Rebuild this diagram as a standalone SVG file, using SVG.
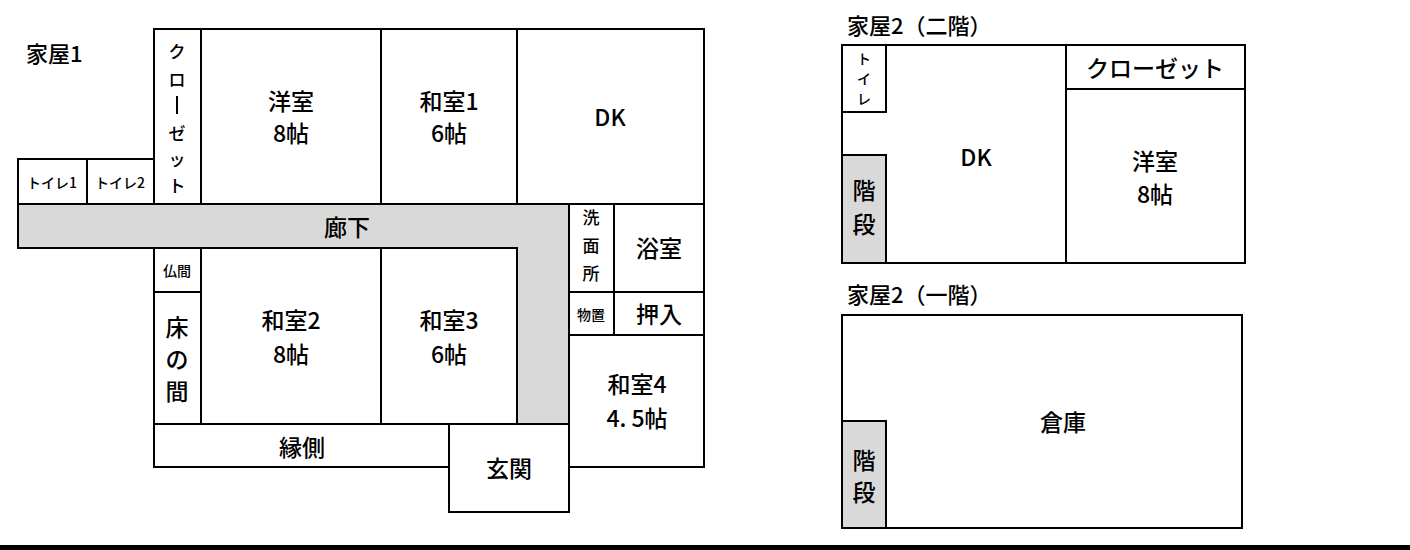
<svg xmlns="http://www.w3.org/2000/svg" width="1410" height="550" viewBox="0 0 1410 550">
<style>
.w{fill:#fff;stroke:#000;stroke-width:2}
.g{fill:#d9d9d9;stroke:#000;stroke-width:2}
text{font-family:"Noto Sans CJK JP","Liberation Sans",sans-serif;fill:#000;text-anchor:middle;font-weight:500}
.L{font-size:23px}
.S{font-size:14px}
.M{font-size:17px}
.T{font-size:22px;text-anchor:start}
</style>
<rect width="1410" height="550" fill="#fff"/>
<g id="house1">
<text class="T" x="26" y="62">家屋1</text>
<path class="g" d="M18,204 H569 V424 H517 V248 H18 Z"/>
<rect class="w" x="154" y="29" width="47" height="175"/>
<rect class="w" x="201" y="29" width="180" height="175"/>
<rect class="w" x="381" y="29" width="136" height="175"/>
<rect class="w" x="517" y="29" width="187" height="175"/>
<rect class="w" x="18" y="159" width="69" height="45"/>
<rect class="w" x="87" y="159" width="67" height="45"/>
<rect class="w" x="569" y="204" width="45" height="88"/>
<rect class="w" x="614" y="204" width="90" height="88"/>
<rect class="w" x="569" y="292" width="45" height="43"/>
<rect class="w" x="614" y="292" width="90" height="43"/>
<rect class="w" x="569" y="335" width="135" height="132"/>
<rect class="w" x="154" y="248" width="47" height="44"/>
<rect class="w" x="154" y="292" width="47" height="132"/>
<rect class="w" x="201" y="248" width="180" height="176"/>
<rect class="w" x="381" y="248" width="136" height="176"/>
<rect class="w" x="154" y="424" width="295" height="43"/>
<rect class="w" x="449" y="424" width="120" height="88"/>
<g class="M"><text x="177" y="58">ク</text><text x="177" y="86">ロ</text><text x="177" y="140">ゼ</text><text x="177" y="166">ッ</text><text x="177" y="192">ト</text></g>
<line x1="177" y1="96" x2="177" y2="114" stroke="#000" stroke-width="2"/>
<text class="L" x="291" y="110">洋室</text><text class="L" x="291" y="142">8帖</text>
<text class="L" x="449" y="110">和室1</text><text class="L" x="449" y="142">6帖</text>
<text class="L" x="610" y="126">DK</text>
<text class="S" x="52" y="188">トイレ1</text><text class="S" x="120" y="188">トイレ2</text>
<text class="L" x="347" y="236">廊下</text>
<text class="M" x="591" y="224">洗</text><text class="M" x="591" y="252">面</text><text class="M" x="591" y="280">所</text>
<text class="L" x="659" y="257">浴室</text>
<text class="S" x="591" y="320">物置</text>
<text class="L" x="659" y="323">押入</text>
<text class="L" x="637" y="393">和室4</text><text class="L" x="637" y="427">4. 5帖</text>
<text class="S" x="177" y="276">仏間</text>
<text class="L" x="177" y="336">床</text><text class="L" x="177" y="368">の</text><text class="L" x="177" y="400">間</text>
<text class="L" x="291" y="329">和室2</text><text class="L" x="291" y="363">8帖</text>
<text class="L" x="449" y="329">和室3</text><text class="L" x="449" y="363">6帖</text>
<text class="L" x="302" y="456">縁側</text>
<text class="L" x="509" y="477">玄関</text>
</g>
<g id="house2-2f">
<text class="T" x="847" y="34">家屋2（二階）</text>
<rect class="w" x="842" y="45" width="403" height="218"/>
<rect class="w" x="842" y="45" width="44" height="67"/>
<rect class="g" x="842" y="155" width="44" height="108"/>
<rect class="w" x="1066" y="45" width="179" height="44"/>
<rect class="w" x="1066" y="89" width="179" height="174"/>
<g class="S"><text x="864" y="64">ト</text><text x="864" y="84">イ</text><text x="864" y="104">レ</text></g>
<text class="L" x="864" y="199">階</text><text class="L" x="864" y="233">段</text>
<text class="L" x="976" y="166">DK</text>
<text class="L" x="1155" y="77">クローゼット</text>
<text class="L" x="1155" y="170">洋室</text><text class="L" x="1155" y="203">8帖</text>
</g>
<g id="house2-1f">
<text class="T" x="847" y="303">家屋2（一階）</text>
<rect class="w" x="842" y="315" width="400" height="213"/>
<rect class="g" x="842" y="421" width="44" height="107"/>
<text class="L" x="864" y="469">階</text><text class="L" x="864" y="501">段</text>
<text class="L" x="1063" y="431">倉庫</text>
</g>
<rect x="0" y="545" width="1410" height="5" fill="#000"/>
</svg>
